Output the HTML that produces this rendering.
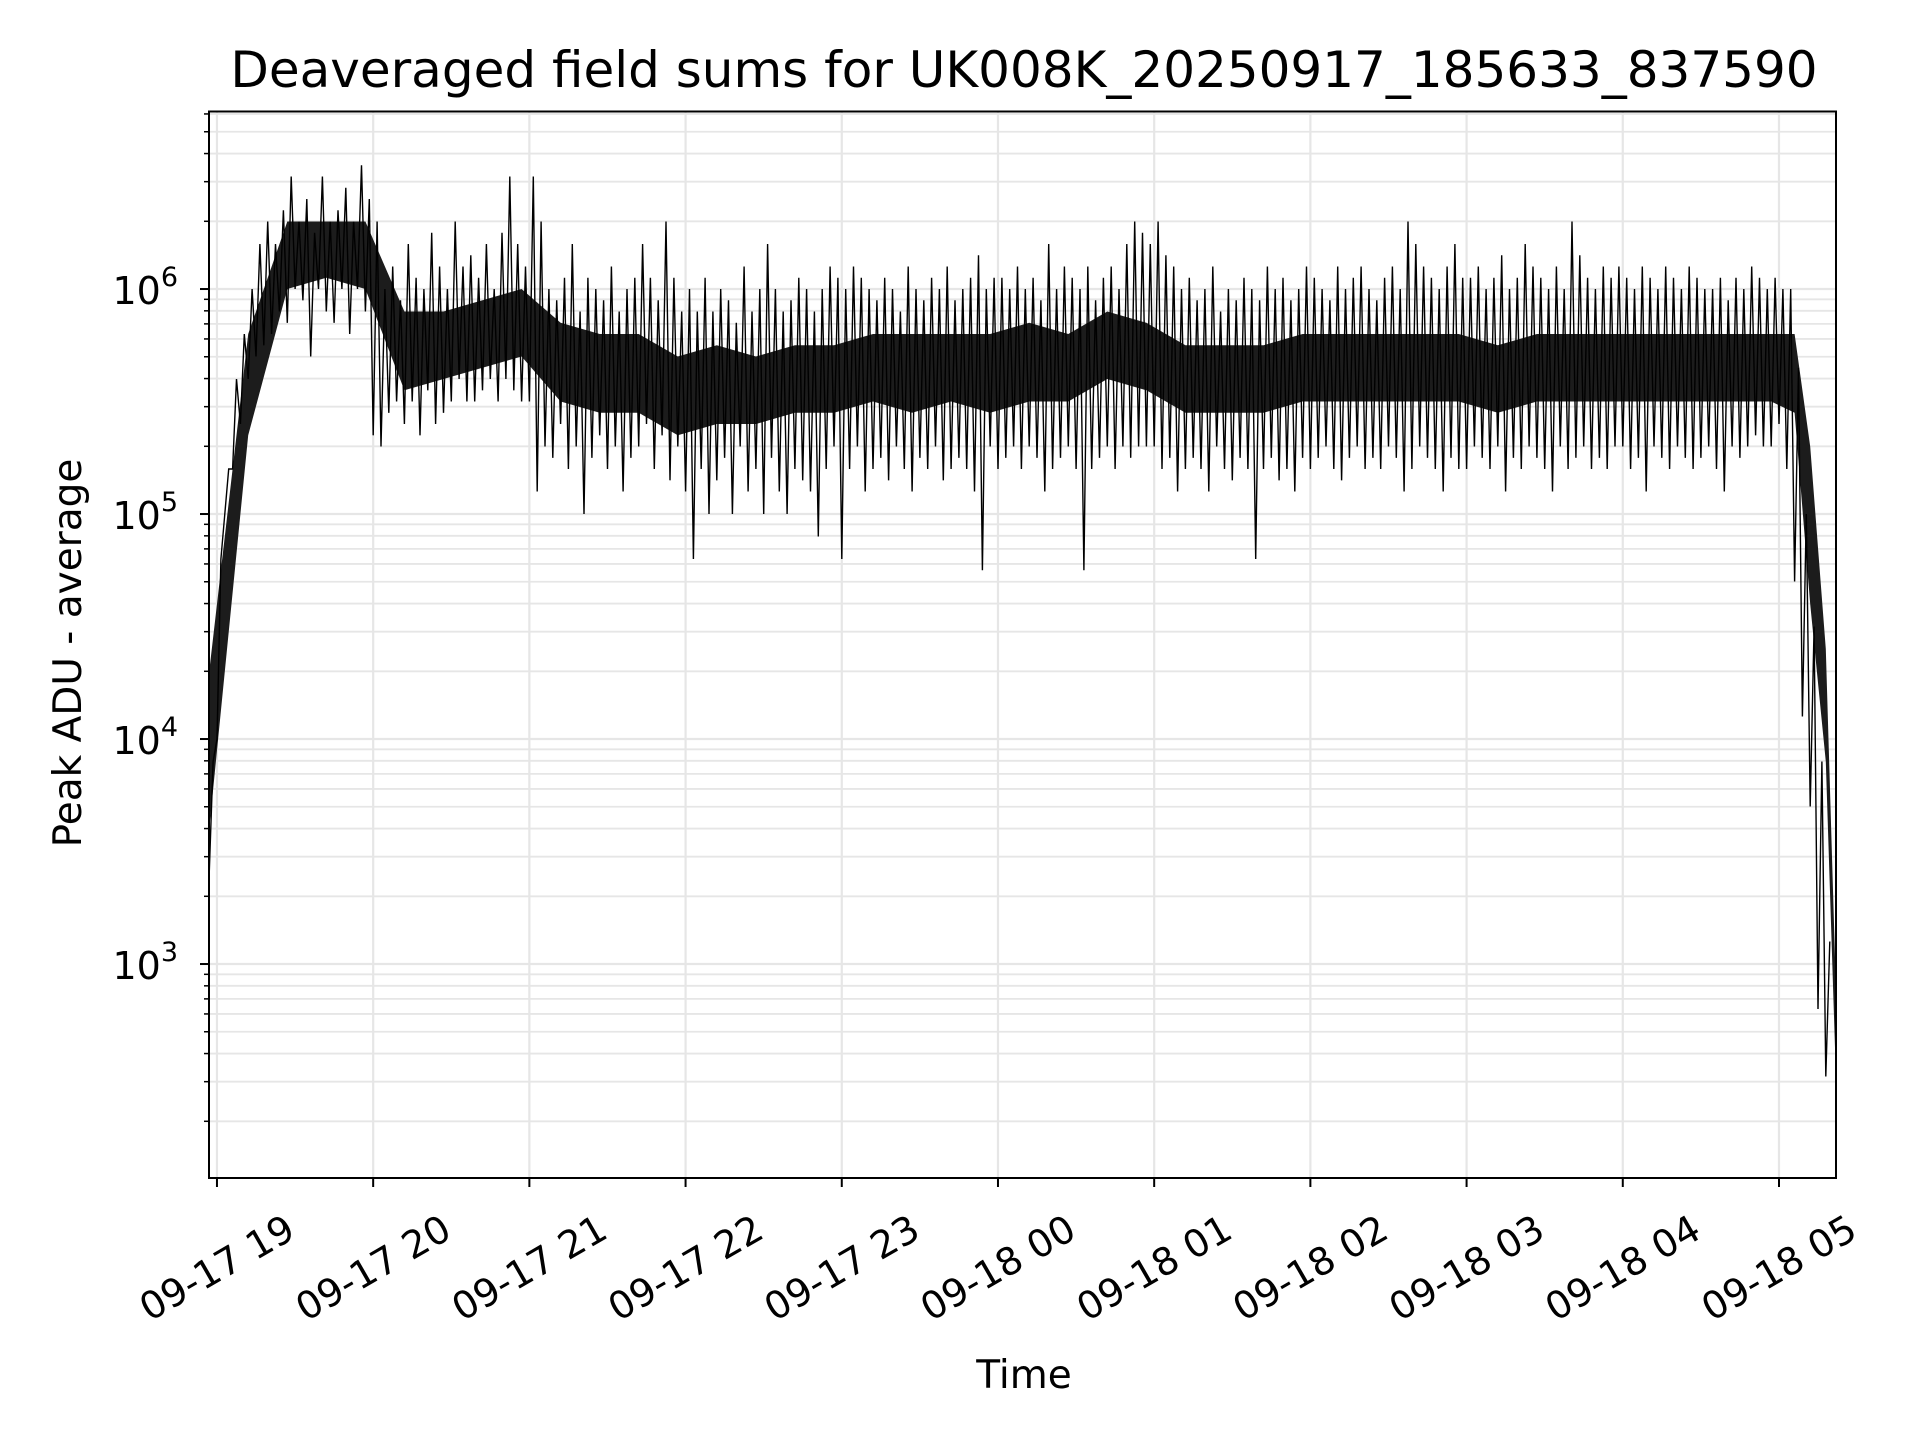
<!DOCTYPE html>
<html><head><meta charset="utf-8"><style>
html,body{margin:0;padding:0;background:#fff;}
svg{display:block;font-family:"DejaVu Sans","Liberation Sans",sans-serif;}
</style></head><body>
<svg id="chart" width="1920" height="1440" viewBox="0 0 1920 1440">
<text x="1024" y="87" font-size="50" text-anchor="middle">Deaveraged field sums for UK008K_20250917_185633_837590</text>
<text x="0" y="0" font-size="39" text-anchor="middle" transform="translate(81,653) rotate(-90)">Peak ADU - average</text>
<text x="1024" y="1388" font-size="39" text-anchor="middle">Time</text>
<g id="grid"></g><g id="series"></g><g id="axes"></g>
</svg>
<script>
const xTickLabels=["09-17 19","09-17 20","09-17 21","09-17 22","09-17 23","09-18 00","09-18 01","09-18 02","09-18 03","09-18 04","09-18 05"];
const yTickExps=[3,4,5,6];
const startHour=-0.05;
const stepHour=0.05;
const hiLog=[3.9,4.8,5.2,5.6,5.8,6.0,6.2,
6.3,6.2,6.35,6.5,6.3,6.4,6.25,6.5,6.3,6.35,6.45,6.3,6.55,6.4,
6.3,6.0,6.1,5.95,6.2,6.05,6.0,6.25,6.1,6.0,6.3,6.1,6.15,6.05,6.2,6.0,6.25,6.5,6.2,6.1,
6.5,6.3,6.0,5.95,6.05,6.2,5.9,6.05,6.0,5.95,6.1,5.9,6.0,6.05,6.2,6.05,5.95,6.3,6.05,5.9,
6.0,5.9,6.05,5.9,6.0,5.95,5.85,6.1,5.9,6.0,6.2,6.0,5.9,5.95,6.05,6.0,5.9,6.0,6.1,6.05,
6.0,6.1,6.05,6.0,5.95,6.05,6.0,5.9,6.1,6.0,5.95,6.05,6.0,6.1,5.95,6.0,6.05,6.15,6.0,6.05,
6.05,6.0,6.1,6.0,6.05,5.95,6.2,6.0,6.1,6.05,6.0,6.1,5.95,6.05,6.1,6.0,6.2,6.3,6.25,6.2,
6.3,6.15,6.1,6.0,6.05,5.95,6.0,6.1,5.9,6.0,5.95,6.05,6.0,5.95,6.1,6.0,6.05,5.95,6.0,6.1,
6.05,6.0,5.95,6.1,6.0,6.05,6.1,6.0,5.95,6.05,6.1,6.0,6.3,6.2,6.1,6.05,6.0,6.1,6.2,6.05,
6.05,6.1,6.0,6.05,6.15,6.0,6.05,6.2,6.1,6.05,6.0,6.1,6.0,6.3,6.15,6.05,6.0,6.1,6.05,6.1,
6.05,6.0,6.1,6.05,6.0,6.1,6.05,6.0,6.1,6.05,6.0,6.0,6.05,5.95,6.05,6.0,6.1,6.05,6.0,6.05,
6.0,6.0,5.65,5.0,4.5,3.9,3.1];
const loLog=[3.4,4.0,5.0,5.2,5.4,5.6,5.7,
5.75,5.8,5.9,5.85,6.0,5.95,5.7,6.0,5.9,5.85,6.0,5.8,6.0,5.9,
5.35,5.3,5.45,5.5,5.4,5.5,5.35,5.55,5.4,5.45,5.5,5.6,5.5,5.5,5.55,5.6,5.5,5.6,5.55,5.5,
5.5,5.1,5.3,5.25,5.4,5.2,5.3,5.0,5.25,5.35,5.2,5.3,5.1,5.25,5.3,5.4,5.2,5.35,5.15,5.3,
5.1,4.8,5.2,5.0,5.15,5.25,5.0,5.3,5.1,5.2,5.0,5.25,5.1,5.0,5.2,5.15,5.1,4.9,5.2,5.3,
4.8,5.2,5.3,5.1,5.2,5.25,5.15,5.3,5.2,5.1,5.25,5.2,5.3,5.15,5.2,5.25,5.2,5.1,4.75,5.3,
5.2,5.25,5.3,5.2,5.3,5.25,5.1,5.2,5.25,5.3,5.2,4.75,5.2,5.25,5.3,5.2,5.3,5.25,5.3,5.3,
5.3,5.2,5.25,5.1,5.2,5.25,5.2,5.1,5.3,5.2,5.15,5.25,5.2,4.8,5.2,5.25,5.15,5.2,5.1,5.25,
5.2,5.25,5.3,5.2,5.15,5.25,5.3,5.2,5.25,5.2,5.3,5.25,5.1,5.2,5.3,5.25,5.2,5.1,5.25,5.2,
5.2,5.3,5.25,5.2,5.3,5.1,5.25,5.2,5.3,5.25,5.2,5.1,5.3,5.2,5.25,5.3,5.2,5.25,5.2,5.3,
5.3,5.2,5.25,5.1,5.3,5.25,5.2,5.3,5.25,5.2,5.25,5.3,5.2,5.1,5.3,5.25,5.3,5.35,5.3,5.3,
5.4,5.2,4.7,4.1,3.7,2.8,2.5];
// dense core band of the series (log10), sampled every 0.25 h
const coreTimes=[-0.05,0.2,0.45,0.7,0.95,1.2,1.45,1.7,1.95,2.2,2.45,2.7,2.95,3.2,3.45,3.7,3.95,4.2,4.45,4.7,4.95,5.2,5.45,5.7,5.95,6.2,6.45,6.7,6.95,7.2,7.45,7.7,7.95,8.2,8.45,8.7,8.95,9.2,9.45,9.7,9.95,10.1,10.2,10.3,10.36];
const coreLo=[3.6,5.35,6.0,6.05,6.0,5.55,5.6,5.65,5.7,5.5,5.45,5.45,5.35,5.4,5.4,5.45,5.45,5.5,5.45,5.5,5.45,5.5,5.5,5.6,5.55,5.45,5.45,5.45,5.5,5.5,5.5,5.5,5.5,5.45,5.5,5.5,5.5,5.5,5.5,5.5,5.5,5.45,4.6,3.9,2.6];
const coreHi=[4.3,5.8,6.3,6.3,6.3,5.9,5.9,5.95,6.0,5.85,5.8,5.8,5.7,5.75,5.7,5.75,5.75,5.8,5.8,5.8,5.8,5.85,5.8,5.9,5.85,5.75,5.75,5.75,5.8,5.8,5.8,5.8,5.8,5.75,5.8,5.8,5.8,5.8,5.8,5.8,5.8,5.8,5.3,4.4,3.0];

const NS="http://www.w3.org/2000/svg";
const L=209,R=1836,T=111.5,B=1178;
const tMin=-0.051,tMax=10.365,logMin=2.049,logMax=6.789;
function xS(t){return L+(t-tMin)/(tMax-tMin)*(R-L);}
function yS(lg){return B-(lg-logMin)/(logMax-logMin)*(B-T);}
function mk(tag,attrs,parent){const e=document.createElementNS(NS,tag);for(const k in attrs)e.setAttribute(k,attrs[k]);parent.appendChild(e);return e;}
const grid=document.getElementById('grid'),series=document.getElementById('series'),axes=document.getElementById('axes');

for(let d=2;d<=6;d++){
  for(let m=1;m<=9;m++){
    const lg=d+Math.log10(m);
    if(lg<logMin||lg>logMax)continue;
    const y=yS(lg);
    const g=mk('line',{x1:L,x2:R,y1:y,y2:y,stroke:'#e6e6e6','stroke-width':m===1?2.2:1.8},grid);
    
    
    const tk=mk('line',{x1:L,x2:L-(m===1?9:5),y1:y,y2:y,stroke:'#000','stroke-width':m===1?2:1.5},axes);
    
    
  }
}
yTickExps.forEach(e=>{
  const y=yS(e);
  const t=mk('text',{x:178,y:y+15,'font-size':38,'text-anchor':'end'},axes);
  
  
  t.innerHTML='10<tspan font-size="27" dy="-18">'+e+'</tspan>';
});
xTickLabels.forEach((lab,i)=>{
  const x=xS(i);
  const g=mk('line',{x1:x,x2:x,y1:T,y2:B,stroke:'#e6e6e6','stroke-width':2.2},grid);
  
  
  const tk=mk('line',{x1:x,x2:x,y1:B,y2:B+9,stroke:'#000','stroke-width':2},axes);
  
  
  const t=mk('text',{x:0,y:0,'font-size':38,'text-anchor':'middle','dominant-baseline':'central',transform:'translate('+x+',1268) rotate(-30)'},axes);
  
  
  t.textContent=lab;
});
let bd='';
coreTimes.forEach((t,i)=>{bd+=(i===0?'M':'L')+xS(t).toFixed(1)+','+yS(coreHi[i]).toFixed(1);});
for(let i=coreTimes.length-1;i>=0;i--){bd+='L'+xS(coreTimes[i]).toFixed(1)+','+yS(coreLo[i]).toFixed(1);}
bd+='Z';
const band=mk('path',{d:bd,fill:'#1c1c1c',stroke:'none','stroke-linejoin':'round'},series);


let d='';
for(let i=0;i<hiLog.length;i++){
  const t=startHour+i*stepHour;
  const x1=xS(t),x2=xS(t+stepHour*0.5);
  d+=(i===0?'M':'L')+x1.toFixed(1)+','+yS(loLog[i]).toFixed(1)+'L'+x2.toFixed(1)+','+yS(hiLog[i]).toFixed(1);
}
const p=mk('path',{d:d,fill:'none',stroke:'#000','stroke-width':1.4},series);


const fr=mk('rect',{x:L,y:T,width:R-L,height:B-T,fill:'none',stroke:'#000','stroke-width':2},axes);


</script>
</body></html>
